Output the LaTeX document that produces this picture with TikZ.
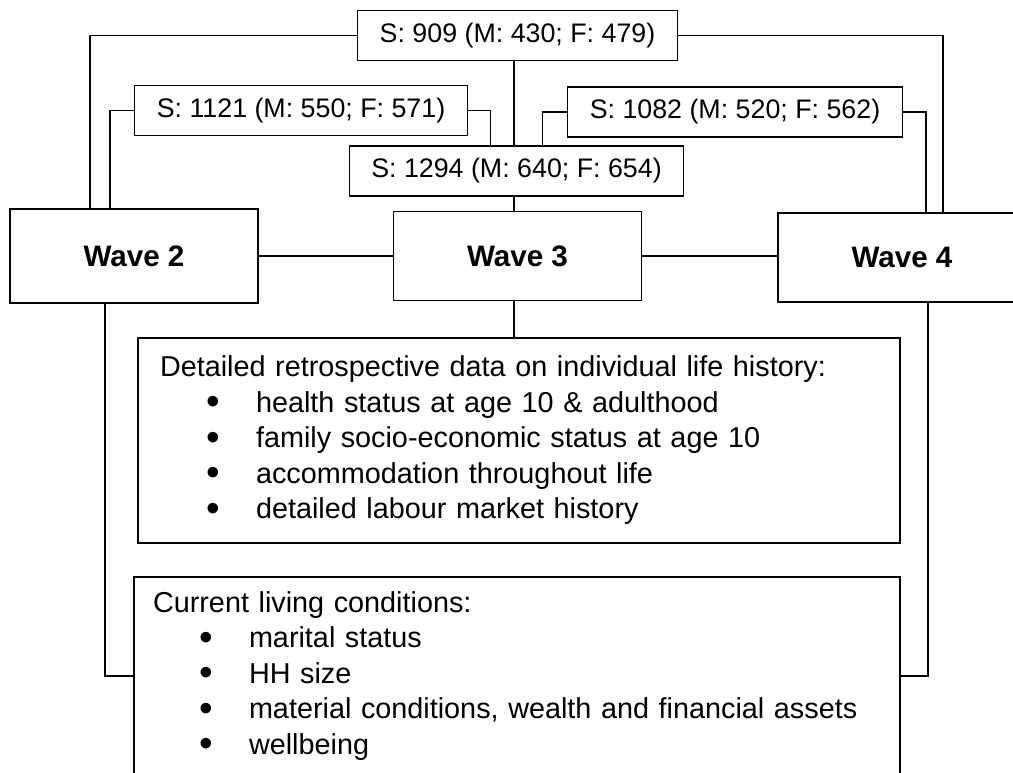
\documentclass[tikz,border=0pt]{standalone}
\usepackage{fontspec}
\setmainfont{Liberation Sans}
\usepackage{tikz}
\usetikzlibrary{positioning}

\tikzset{
  countbox/.style={draw, line width=1.3pt, inner xsep=22pt, minimum height=50pt, font=\fontsize{26.8}{30}\selectfont},
  wavebox/.style={draw, line width=1.5pt, minimum width=248pt, font=\fontsize{29.6}{32}\selectfont\bfseries},
  listbox/.style={draw, line width=1.3pt, align=left, font=\fontsize{28.8}{35.5}\selectfont},
  link/.style={line width=1.3pt}
}
\newcommand{\bulletline}[1]{\hspace*{46pt}\makebox[50pt][l]{\raisebox{-2.2pt}{\scalebox{1.35}{\textbullet}}}#1}

\begin{document}
\begin{tikzpicture}[x=1pt,y=-1pt]
    \useasboundingbox (0,0) rectangle (1013,773);
    \clip (0,0) rectangle (1013,773);
    \fill[white] (0,0) rectangle (1013,773);

    \node[countbox] (s909) at (517.5,35.5) {S: 909 (M: 430; F: 479)};
    \node[countbox] (s1121) at (301,110.5) {S: 1121 (M: 550; F: 571)};
    \node[countbox] (s1294) at (516.5,171) {S: 1294 (M: 640; F: 654)};
    \node[countbox] (s1082) at (735,112) {S: 1082 (M: 520; F: 562)};

    \node[wavebox, minimum height=94pt] (wave2) at (134,256) {Wave 2};
    \node[wavebox, minimum height=89pt] (wave3) at (517.5,256) {Wave 3};
    \node[wavebox, minimum height=89pt] (wave4) at (902,257.5) {Wave 4};

    \node[listbox, text width=718pt, inner xsep=22pt, minimum height=205pt] (retro) at (519,440.5)
        {Detailed retrospective data on individual life history:\\
         \bulletline{health status at age 10 \& adulthood}\\
         \bulletline{family socio-economic status at age 10}\\
         \bulletline{accommodation throughout life}\\
         \bulletline{detailed labour market history}};
    \node[listbox, text width=728pt, inner xsep=19pt, minimum height=198pt] (living) at (517,676)
        {Current living conditions:\\
         \bulletline{marital status}\\
         \bulletline{HH size}\\
         \bulletline{material conditions, wealth and financial assets}\\
         \bulletline{wellbeing}};

    \draw[link] (s909.west) -| ([xshift=-44pt]wave2.north);
    \draw[link] (s909.east) -| ([xshift=41pt]wave4.north);
    \draw[link] ([xshift=-3.5pt]wave3.north |- s909.south) -- ([xshift=-3.5pt]wave3.north |- s1294.north);
    \draw[link] (s1121.west) -| ([xshift=-24pt]wave2.north);
    \draw[link] (s1121.east) -| ([xshift=-26pt]s1294.north);
    \draw[link] (s1082.west) -| ([xshift=26pt]s1294.north);
    \draw[link] (s1082.east) -| ([xshift=24pt]wave4.north);
    \draw[link] ([xshift=-3.5pt]wave3.north |- s1294.south) -- ([xshift=-3.5pt]wave3.north);
    \draw[link] (wave2.east) -- (wave2.east -| wave3.west);
    \draw[link] (wave3.east) -- (wave3.east -| wave4.west);
    \draw[link] ([xshift=-3.5pt]wave3.south) -- ([xshift=-3.5pt]wave3.south |- retro.north);
    \draw[link] ([xshift=-29pt]wave2.south) |- (living.west);
    \draw[link] ([xshift=26pt]wave4.south) |- (living.east);
\end{tikzpicture}
\end{document}
